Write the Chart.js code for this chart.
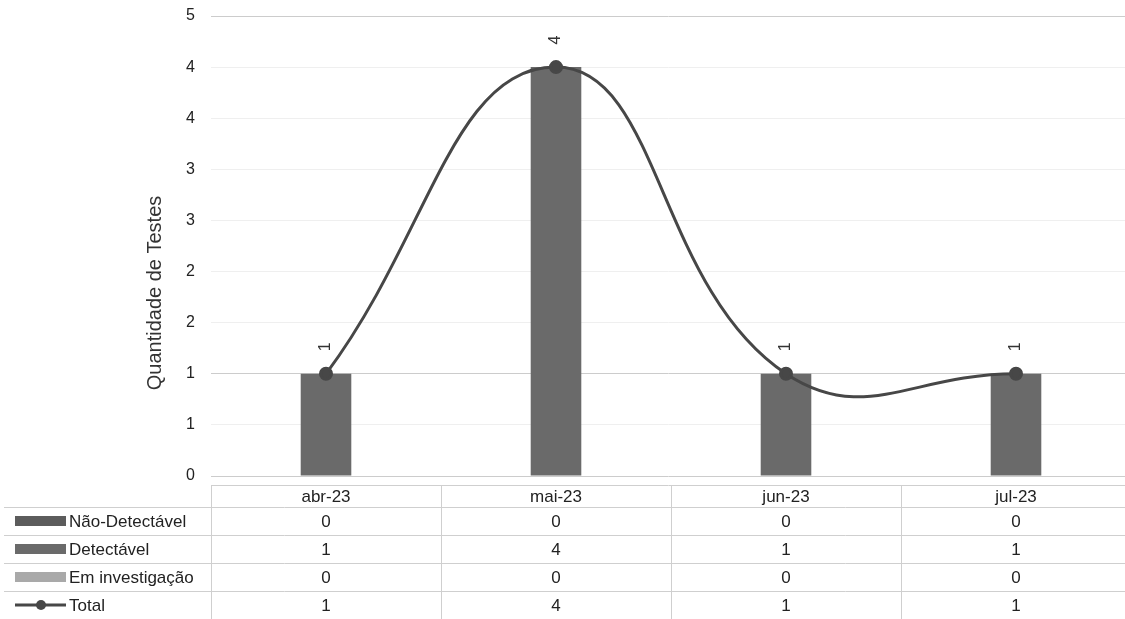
<!DOCTYPE html>
<html>
<head>
<meta charset="utf-8">
<script src="https://cdn.jsdelivr.net/npm/chart.js@4"></script>
<style>
  html, body { margin: 0; padding: 0; background: #fff; overflow: hidden; }
  #testes { display: block; }
</style>
</head>
<body>
<canvas id="testes" width="1125" height="619"></canvas>
<script>
const categories = ["abr-23", "mai-23", "jun-23", "jul-23"];
const naoDetectavel = [0, 0, 0, 0];
const detectavel = [1, 4, 1, 1];
const emInvestigacao = [0, 0, 0, 0];
const total = [1, 4, 1, 1];
const yMax = 4.5;
const yStep = 0.5;

const FONT = "'Liberation Sans', Arial, sans-serif";
const PLOT_RIGHT = 1131; // the plot runs a little past the right edge of the picture
const colors = {
  nao: "#5c5c5c",
  det: "#6a6a6a",
  inv: "#a9a9a9",
  total: "#474747"
};

// rows of the data table under the chart
const tableRows = [
  { label: "Não-Detectável", values: naoDetectavel, color: colors.nao },
  { label: "Detectável", values: detectavel, color: colors.det },
  { label: "Em investigação", values: emInvestigacao, color: colors.inv },
  { label: "Total", values: total, color: colors.total, isLine: true }
];

const extras = {
  id: "extras",
  afterLayout(chart) {
    const area = chart.chartArea;
    area.right = PLOT_RIGHT;
    area.width = area.right - area.left;
    const x = chart.scales.x;
    x.right = PLOT_RIGHT;
    x.width = x.right - x.left;
    x.configure();
  },
  afterDatasetsDraw(chart) {
    const ctx = chart.ctx;
    // rotated value labels above the Total points
    const meta = chart.getDatasetMeta(3);
    ctx.save();
    ctx.fillStyle = "#333";
    ctx.font = "16px " + FONT;
    ctx.textAlign = "center";
    ctx.textBaseline = "middle";
    meta.data.forEach((pt, i) => {
      ctx.save();
      ctx.translate(pt.x, pt.y - 27);
      ctx.rotate(-Math.PI / 2);
      ctx.fillText(String(total[i]), 0, 0);
      ctx.restore();
    });
    ctx.restore();
  },
  afterDraw(chart) {
    const ctx = chart.ctx;
    const x = chart.scales.x;
    const area = chart.chartArea;
    const half = (area.right - area.left) / categories.length / 2;
    const headerTop = area.bottom + 9;
    const headerBottom = headerTop + 22;
    const rowH = 28;
    const tableBottom = headerBottom + rowH * tableRows.length;

    ctx.save();
    // axis title
    ctx.fillStyle = "#333";
    ctx.font = "20px " + FONT;
    ctx.textAlign = "center";
    ctx.textBaseline = "middle";
    ctx.save();
    ctx.translate(155, 293);
    ctx.rotate(-Math.PI / 2);
    ctx.fillText("Quantidade de Testes", 0, 0);
    ctx.restore();

    // grid of the table
    ctx.strokeStyle = "#cfcfcf";
    ctx.lineWidth = 1;
    ctx.beginPath();
    ctx.moveTo(area.left, headerTop + 0.5);
    ctx.lineTo(area.right, headerTop + 0.5);
    for (let r = 0; r <= tableRows.length; r++) {
      const y = Math.round(headerBottom + r * rowH) + 0.5;
      ctx.moveTo(4, y);
      ctx.lineTo(area.right, y);
    }
    categories.forEach((c, i) => {
      const xl = Math.round(x.getPixelForValue(i) - half) + 0.5;
      ctx.moveTo(xl, headerTop);
      ctx.lineTo(xl, tableBottom);
    });
    ctx.stroke();

    // header
    ctx.fillStyle = "#222";
    ctx.font = "17px " + FONT;
    ctx.textAlign = "center";
    categories.forEach((c, i) => {
      ctx.fillText(c, x.getPixelForValue(i), (headerTop + headerBottom) / 2 + 1);
    });

    // rows
    tableRows.forEach((row, r) => {
      const yc = headerBottom + r * rowH + rowH / 2;
      if (row.isLine) {
        ctx.strokeStyle = row.color;
        ctx.lineWidth = 3;
        ctx.beginPath();
        ctx.moveTo(15, yc);
        ctx.lineTo(66, yc);
        ctx.stroke();
        ctx.fillStyle = row.color;
        ctx.beginPath();
        ctx.arc(41, yc, 5, 0, Math.PI * 2);
        ctx.fill();
      } else {
        ctx.fillStyle = row.color;
        ctx.fillRect(15, yc - 5, 51, 10);
      }
      ctx.fillStyle = "#222";
      ctx.textAlign = "left";
      ctx.fillText(row.label, 69, yc + 1);
      ctx.textAlign = "center";
      row.values.forEach((v, i) => {
        ctx.fillText(String(v), x.getPixelForValue(i), yc + 1);
      });
    });
    ctx.restore();
  }
};

const barDefaults = {
  type: "bar",
  stack: "testes",
  order: 1,
  barPercentage: 0.22,
  categoryPercentage: 1
};

new Chart(document.getElementById("testes").getContext("2d"), {
  data: {
    labels: categories,
    datasets: [
      { ...barDefaults, label: "Não-Detectável", data: naoDetectavel, backgroundColor: colors.nao },
      { ...barDefaults, label: "Detectável", data: detectavel, backgroundColor: colors.det },
      { ...barDefaults, label: "Em investigação", data: emInvestigacao, backgroundColor: colors.inv },
      {
        type: "line",
        label: "Total",
        stack: "total",
        order: 0,
        data: total,
        borderColor: colors.total,
        backgroundColor: colors.total,
        borderWidth: 3,
        tension: 0.45,
        pointRadius: 5.5,
        pointBackgroundColor: colors.total,
        pointBorderColor: colors.total,
        fill: false
      }
    ]
  },
  options: {
    responsive: false,
    animation: false,
    events: [],
    layout: { padding: { left: 0, right: 0, top: 16, bottom: 143 } },
    plugins: {
      legend: { display: false },
      tooltip: { enabled: false }
    },
    scales: {
      x: {
        stacked: true,
        display: false
      },
      y: {
        stacked: true,
        min: 0,
        max: yMax,
        afterFit: (scale) => {
          scale.width = 211;
          scale.paddingTop = 0;
          scale.paddingBottom = 0;
        },
        border: { display: false },
        grid: {
          drawTicks: false,
          color: (c) => ([0, 1, yMax].includes(c.tick.value) ? "#cccccc" : "#efefef")
        },
        ticks: {
          stepSize: yStep,
          padding: 16,
          color: "#222",
          font: { family: FONT, size: 16 },
          callback: (value) => Math.round(value)
        }
      }
    }
  },
  plugins: [extras]
});
</script>
</body>
</html>
